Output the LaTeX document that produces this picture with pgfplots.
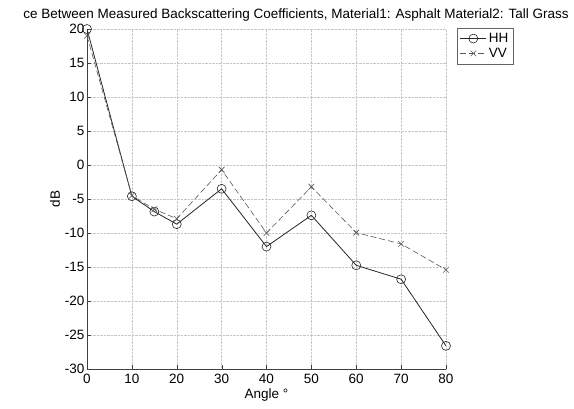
\documentclass[border=0pt]{standalone}
\usepackage{fontspec}
\setmainfont{Liberation Sans}
\usepackage{pgfplots}
\pgfplotsset{compat=1.18}
\begin{document}
\begin{tikzpicture}
\path[use as bounding box] (-87pt,-39pt) rectangle (487pt,369pt);
\begin{axis}[
  at={(0,0)}, anchor=south west,
  scale only axis, width=359pt, height=340pt,
  xmin=0, xmax=80, ymin=-30, ymax=20,
  xtick={0,10,...,80}, ytick={-30,-25,...,20},
  axis x line*=bottom, axis y line*=left,
  axis line style={-, black!75},
  grid=major, grid style={densely dotted, black!22},
  tick style={black!75}, tick align=inside, major tick length=4pt,
  ticklabel style={font=\fontsize{13.5}{15}\selectfont},
  /pgf/number format/assume math mode=true,
  xticklabel style={yshift=-1.5pt},
  yticklabel style={xshift=1pt},
  xlabel={Angle °}, ylabel={dB},
  label style={font=\fontsize{13.5}{15}\selectfont},
  xlabel style={yshift=2pt},
  ylabel style={yshift=-2pt},
  legend style={at={(1.03,1.003)}, anchor=north west, draw=black!60,
    font=\fontsize{13.5}{15}\selectfont, cells={anchor=west},
    inner xsep=3pt, inner ysep=3pt, row sep=0pt},
  legend image code/.code={
    \draw[mark repeat=2, mark phase=2, #1] plot coordinates {(0pt,0pt) (13pt,0pt) (26pt,0pt)};
  },
]
\addplot[black!85, thick, mark=o, mark size=4.5pt, mark options={solid, semithick}]
coordinates {(0,20) (10,-4.6) (15,-6.85) (20,-8.7) (30,-3.5) (40,-12.0) (50,-7.4) (60,-14.75) (70,-16.8) (80,-26.6)};
\addlegendentry{HH}
\addplot[black!65, semithick, dash pattern=on 6pt off 3pt, mark=x, mark size=4pt, mark options={solid, semithick}]
coordinates {(0,19) (10,-4.5) (15,-6.5) (20,-7.9) (30,-0.7) (40,-10.0) (50,-3.2) (60,-9.95) (70,-11.6) (80,-15.4)};
\addlegendentry{VV}
\end{axis}
\node[anchor=base east, inner sep=0pt, font=\fontsize{13.5}{15}\selectfont] at (482pt,350pt)
  {ce Between Measured Backscattering Coefficients, Material1: Asphalt Material2: Tall Grass};
\end{tikzpicture}
\end{document}
